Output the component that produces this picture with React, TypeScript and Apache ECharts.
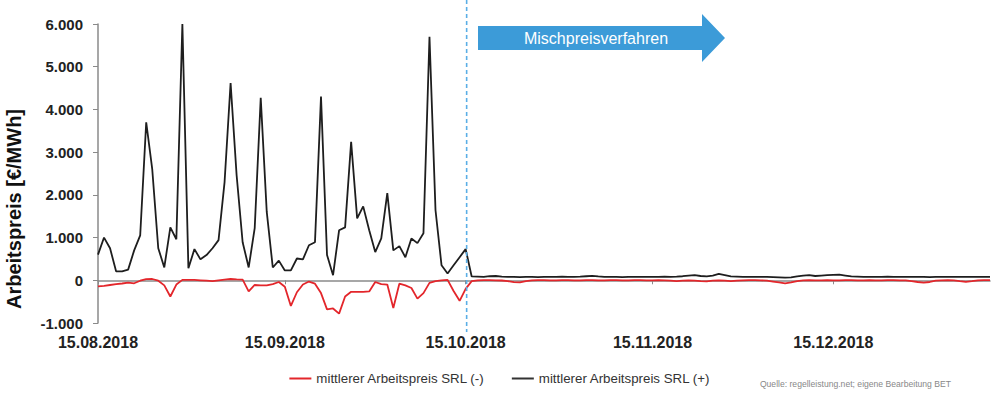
import React, { useEffect, useRef } from "react";
import * as echarts from "echarts";

const START_DATE = "2018-08-15";
const DAY_COUNT = 149;
const MARKER_DATE = "2018-10-15";

const Y_MIN = -1000;
const Y_MAX = 6000;
const Y_STEP = 1000;

const SERIES_MINUS_NAME = "mittlerer Arbeitspreis SRL (-)";
const SERIES_PLUS_NAME = "mittlerer Arbeitspreis SRL (+)";

const srlPlus = [
  600, 1000, 750, 210, 210, 250, 700, 1050, 3700, 2600,
  750, 300, 1240, 960, 6000, 280, 730, 490, 590, 750,
  940, 2300, 4620, 2460, 890, 300, 1220, 4270, 1600, 300,
  460, 230, 230, 510, 490, 820, 890, 4300, 590, 120,
  1170, 1240, 3240, 1450, 1730, 1170, 660, 980, 2040, 700,
  800, 540, 980, 870, 1100, 5700, 1640, 350, 160, 350,
  540, 730,
  90,
  85, 80, 95, 100, 85, 80, 80, 75, 80, 80,
  75, 80, 80, 80, 85, 80, 80, 85, 95, 105,
  90, 80, 80, 80, 75, 80, 80, 80, 80, 80,
  80, 85, 80, 85, 95, 110, 120, 100, 90, 110,
  150, 120, 90, 85, 80, 80, 80, 80, 80, 75,
  70, 60, 70, 90, 110, 120, 100, 110, 120, 125,
  130, 110, 90, 85, 80, 80, 80, 80, 85, 80,
  80, 80, 80, 80, 80, 75, 80, 80, 80, 80,
  80, 80, 80, 80, 80, 80,
];

const srlMinus = [
  -145, -130, -110, -90, -75, -55, -70, -10, 25, 30,
  -10, -120, -380, -100, 10, 10, 10, 0, -10, -20,
  0, 15, 30, 20, 15, -260, -110, -120, -120, -90,
  -40, -150, -600, -280, -100, -30, -80, -300, -680, -660,
  -780, -380, -270, -270, -270, -260, -40, -90, -100, -650,
  -80, -120, -180, -430, -300, -60, -20, 0, 10, -250,
  -480, -200,
  -20,
  0, 5, 5, 0, -5, -20, -45, -50, -20, 0,
  5, 5, 0, 0, 5, 5, 0, 0, 5, 5,
  0, 0, 5, 5, 0, 0, 5, 5, 0, 0,
  5, 0, -10, -20, -10, 0, -10, -20, -25, -10,
  0, -10, -20, -10, 0, 5, 5, 0, -10, -30,
  -50, -70, -50, -20, 0, 5, 0, 0, 5, 0,
  0, 5, 5, 0, 0, 5, 0, 0, 5, 5,
  0, 0, -20, -40, -55, -40, -10, 0, 5, 0,
  -20, -35, -20, 0, 5, 5,
];

function buildDates(): string[] {
  const out: string[] = [];
  const t0 = Date.parse(START_DATE + "T00:00:00Z");
  for (let i = 0; i < DAY_COUNT; i++) {
    const d = new Date(t0 + i * 86400000);
    out.push(d.toISOString().slice(0, 10));
  }
  return out;
}

function fmtDate(v: string): string {
  const [y, m, d] = v.split("-");
  return `${d}.${m}.${y}`;
}

function fmtNum(v: number): string {
  const s = Math.abs(v).toString().replace(/\B(?=(\d{3})+(?!\d))/g, ".");
  return (v < 0 ? "-" : "") + s;
}

const FONT = "Liberation Sans, Arial, sans-serif";

export default function App() {
  const ref = useRef<HTMLDivElement>(null);

  useEffect(() => {
    document.body.style.margin = "0";
    const chart = echarts.init(ref.current!, null, { renderer: "svg" });
    const dates = buildDates();
    const isMid = (_i: number, v: string) => v.slice(8) === "15";
    const axisGray = "#8a8a8a";

    chart.setOption({
      animation: false,
      textStyle: { fontFamily: FONT },
      grid: { left: 98, right: 10, top: 24, bottom: 70 },
      legend: {
        left: "center",
        top: 367,
        icon: "rect",
        itemWidth: 22,
        itemHeight: 2,
        itemGap: 27,
        textStyle: { fontSize: 13.3, color: "#333", fontFamily: FONT },
        data: [SERIES_MINUS_NAME, SERIES_PLUS_NAME],
      },
      xAxis: [
        {
          type: "category",
          data: dates,
          boundaryGap: false,
          axisLine: { show: true, onZero: true, lineStyle: { color: axisGray, width: 1.5 } },
          axisTick: { show: true, interval: isMid, length: 4, lineStyle: { color: axisGray } },
          axisLabel: { show: false },
          splitLine: { show: false },
        },
        {
          type: "category",
          data: dates,
          boundaryGap: false,
          position: "bottom",
          axisLine: { show: false, onZero: false },
          axisTick: { show: false },
          splitLine: { show: false },
          axisLabel: {
            interval: isMid,
            formatter: (v: string) => fmtDate(v),
            fontWeight: "bold",
            fontSize: 16,
            color: "#222",
            margin: 11,
            fontFamily: FONT,
          },
        },
      ],
      yAxis: {
        type: "value",
        min: Y_MIN,
        max: Y_MAX,
        interval: Y_STEP,
        axisLine: { show: true, lineStyle: { color: axisGray, width: 1.5 } },
        axisTick: { show: true, length: 5, lineStyle: { color: axisGray } },
        splitLine: { show: false },
        axisLabel: {
          formatter: (v: number) => fmtNum(v),
          fontWeight: "bold",
          fontSize: 15,
          color: "#222",
          margin: 15,
          fontFamily: FONT,
        },
      },
      series: [
        {
          name: SERIES_MINUS_NAME,
          type: "line",
          xAxisIndex: 0,
          data: srlMinus,
          symbol: "none",
          lineStyle: { color: "#e3262b", width: 1.8 },
          itemStyle: { color: "#e3262b" },
        },
        {
          name: SERIES_PLUS_NAME,
          type: "line",
          xAxisIndex: 0,
          data: srlPlus,
          symbol: "none",
          lineStyle: { color: "#1e1e1e", width: 1.8 },
          itemStyle: { color: "#333" },
        },
      ],
    });

    const px = chart.convertToPixel({ xAxisIndex: 0 }, MARKER_DATE) as number;

    chart.setOption({
      graphic: [
        {
          type: "line",
          shape: { x1: px + 1, y1: 0, x2: px + 1, y2: 332 },
          style: { stroke: "#5aaee6", lineWidth: 1.6, lineDash: [4, 3] },
          z: 10,
        },
        {
          type: "polygon",
          shape: {
            points: [
              [478, 26], [702, 26], [702, 14], [725, 38], [702, 62], [702, 50], [478, 50],
            ],
          },
          style: { fill: "#3c9bd8" },
          z: 10,
        },
        {
          type: "text",
          x: 596,
          y: 38,
          style: {
            text: "Mischpreisverfahren",
            fill: "#ffffff",
            fontSize: 16,
            fontFamily: FONT,
            align: "center",
            verticalAlign: "middle",
          },
          z: 11,
        },
        {
          type: "text",
          x: 14,
          y: 209,
          rotation: Math.PI / 2,
          style: {
            text: "Arbeitspreis [€/MWh]",
            fill: "#111",
            fontSize: 20,
            fontWeight: "bold",
            fontFamily: FONT,
            align: "center",
            verticalAlign: "middle",
          },
        },
        {
          type: "text",
          x: 951,
          y: 384,
          style: {
            text: "Quelle: regelleistung.net; eigene Bearbeitung BET",
            fill: "#888",
            fontSize: 8.6,
            fontFamily: FONT,
            align: "right",
            verticalAlign: "middle",
          },
        },
      ],
    });

    return () => chart.dispose();
  }, []);

  return <div ref={ref} style={{ width: 1000, height: 393 }} />;
}
